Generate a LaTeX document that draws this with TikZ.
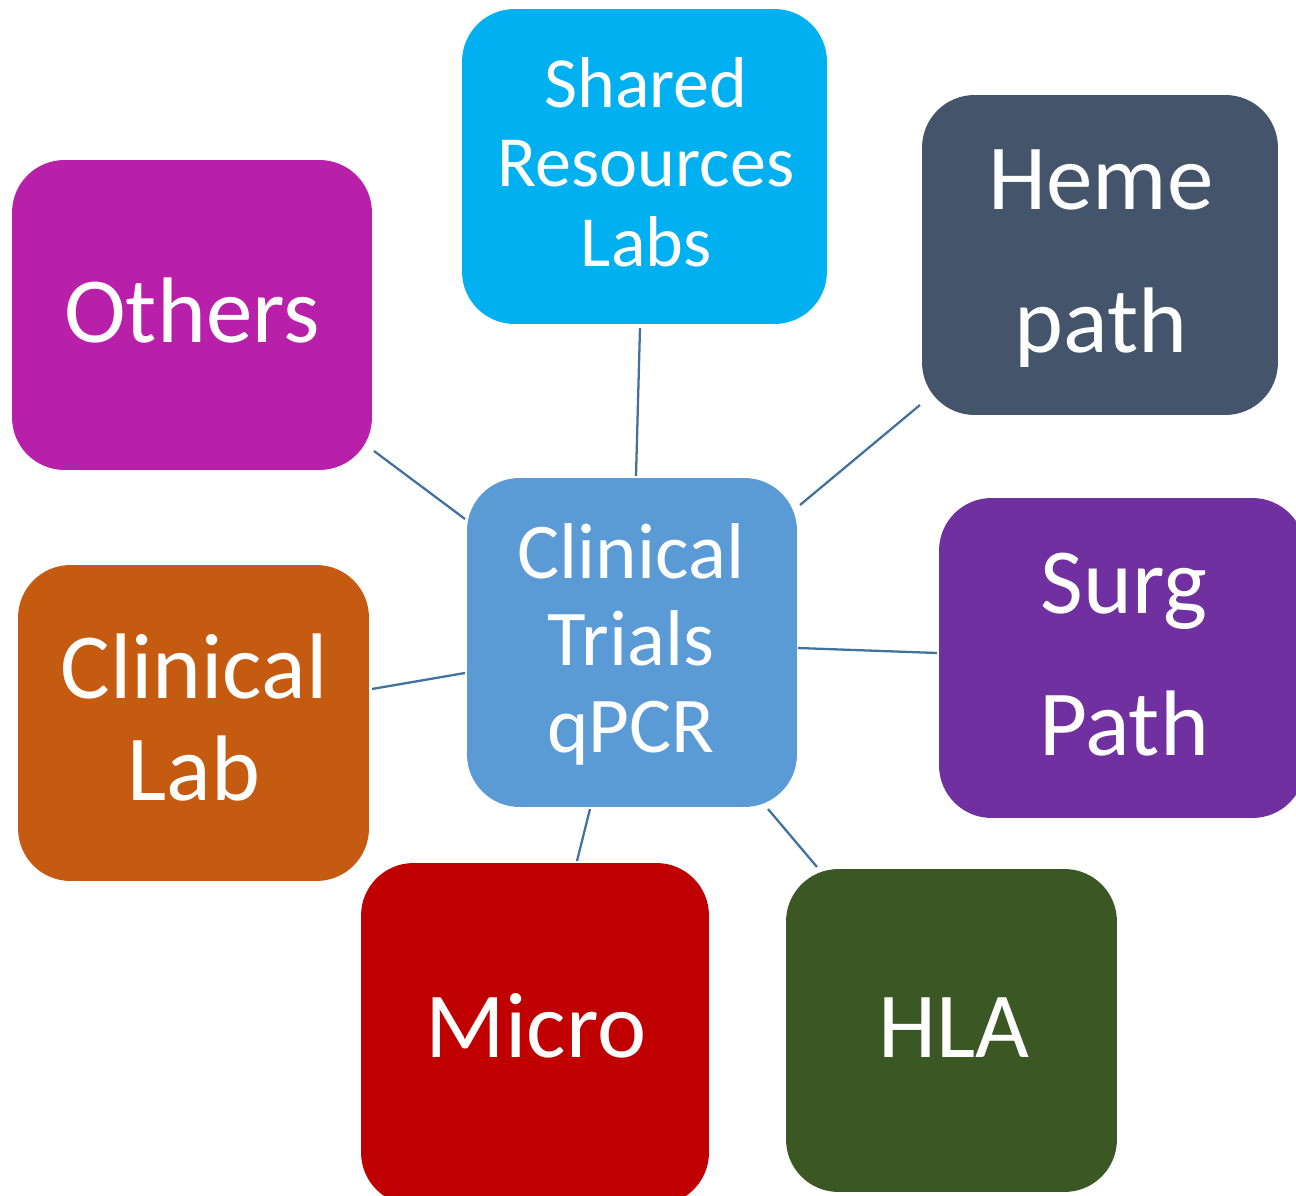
\documentclass[tikz,border=0pt]{standalone}
\usepackage{fontspec}
\setmainfont{Carlito}
\definecolor{cShared}{HTML}{00B0F0}
\definecolor{cHeme}{HTML}{44546A}
\definecolor{cOthers}{HTML}{B820AA}
\definecolor{cCenter}{HTML}{5B9BD5}
\definecolor{cSurg}{HTML}{7030A0}
\definecolor{cClab}{HTML}{C55A11}
\definecolor{cMicro}{HTML}{C00000}
\definecolor{cHla}{HTML}{3B5724}
\definecolor{cLine}{HTML}{41719C}
\tikzset{
  box/.style={rectangle, rounded corners=1.05cm, inner sep=0pt, outer sep=0pt, draw=none},
  big/.style={text=white, inner sep=0pt, anchor=base, font=\fontsize{53pt}{53pt}\selectfont},
  mid/.style={text=white, inner sep=0pt, anchor=base, font=\fontsize{45pt}{45pt}\selectfont},
  small/.style={text=white, inner sep=0pt, anchor=base, font=\fontsize{41pt}{41pt}\selectfont},
  link/.style={draw=cLine, line width=1.3pt}
}
\begin{document}
\begin{tikzpicture}[x=0.02cm, y=-0.02cm]
\useasboundingbox (0,0) rectangle (1296,1196);
\clip (0,0) rectangle (1296,1196);
% boxes
\node[box, fill=cShared, minimum width=7.3cm, minimum height=6.3cm] (shared) at (644.5,166.5) {};
\node[box, fill=cHeme, minimum width=7.12cm, minimum height=6.4cm] (heme) at (1100,255) {};
\node[box, fill=cOthers, minimum width=7.2cm, minimum height=6.2cm] (others) at (192,315) {};
\node[box, fill=cCenter, minimum width=6.6cm, minimum height=6.58cm] (center) at (632,642.5) {};
\node[box, fill=cSurg, minimum width=7.32cm, minimum height=6.4cm] (surg) at (1122,658) {};
\node[box, fill=cClab, minimum width=7.02cm, minimum height=6.32cm] (clab) at (193.5,723) {};
\node[box, fill=cMicro, minimum width=6.96cm, minimum height=6.84cm] (micro) at (535,1034) {};
\node[box, fill=cHla, minimum width=6.62cm, minimum height=6.46cm] (hla) at (951.5,1030.5) {};
% texts
\node[small] (sharedA) at (646,108) {Shared};
\node[small] (sharedB) at (646,187) {Resources};
\node[small] (sharedC) at (646,267) {Labs};
\node[big] (hemeA) at (1101,210) {Heme};
\node[big] (hemeB) at (1101,353) {path};
\node[big] (othersA) at (192,343) {Others};
\node[mid] (centerA) at (631,578) {Clinical};
\node[mid] (centerB) at (631,665) {Trials};
\node[mid] (centerC) at (631,752) {qPCR};
\node[big] (surgA) at (1124,613) {Surg};
\node[big] (surgB) at (1124,755) {Path};
\node[big] (clabA) at (194,698) {Clinical};
\node[big] (clabB) at (194,800) {Lab};
\node[big] (microA) at (536,1057) {Micro};
\node[big] (hlaA) at (954,1057) {HLA};
% connector ends
\coordinate (sS) at (640,328); \coordinate (sC) at (636,476);
\coordinate (hS) at (920,405); \coordinate (hC) at (800,505);
\coordinate (uS) at (937,653); \coordinate (uC) at (798,648);
\coordinate (aS) at (817,867); \coordinate (aC) at (768,809);
\coordinate (mS) at (577,861); \coordinate (mC) at (590,809);
\coordinate (lS) at (372,689); \coordinate (lC) at (465,673);
\coordinate (oS) at (374,451); \coordinate (oC) at (465,519);
\draw[link] (sC) -- (sS);
\draw[link] (hC) -- (hS);
\draw[link] (uC) -- (uS);
\draw[link] (aC) -- (aS);
\draw[link] (mC) -- (mS);
\draw[link] (lC) -- (lS);
\draw[link] (oC) -- (oS);
\end{tikzpicture}
\end{document}
